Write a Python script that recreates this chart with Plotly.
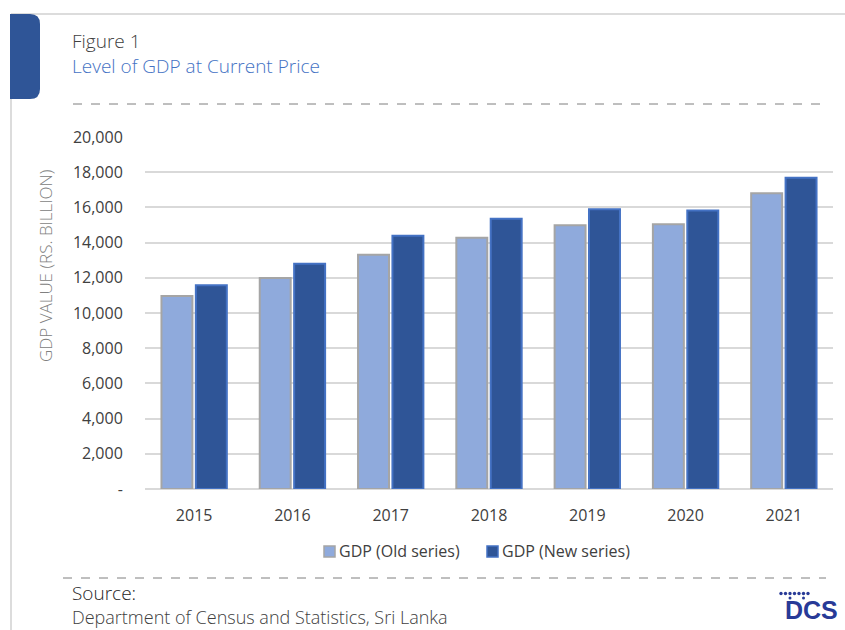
import plotly.graph_objects as go

years = ["2015", "2016", "2017", "2018", "2019", "2020", "2021"]
gdp_old = [10960, 11990, 13310, 14270, 14990, 15040, 16800]
gdp_new = [11570, 12800, 14390, 15350, 15890, 15820, 17690]
series_names = ["GDP (Old series)", "GDP (New series)"]
y_tickvals = [0, 2000, 4000, 6000, 8000, 10000, 12000, 14000, 16000, 18000, 20000]
y_ticktext = ["-", "2,000", "4,000", "6,000", "8,000", "10,000", "12,000",
              "14,000", "16,000", "18,000", "20,000"]

W, H = 845, 630
L, R, T, B = 145, 12, 137, 141
PW, PH = W - L - R, H - T - B

def px(x):
    return (x - L) / PW

def py(y):
    return (H - B - y) / PH

fills = ["#8FAADC", "#2F5597"]
edges = ["#A5A5A5", "#4472C4"]

fig = go.Figure()
fig.add_trace(go.Bar(
    x=years, y=gdp_old, name=series_names[0],
    marker=dict(color=fills[0], line=dict(color=edges[0], width=2)),
))
fig.add_trace(go.Bar(
    x=years, y=gdp_new, name=series_names[1],
    marker=dict(color=fills[1], line=dict(color=edges[1], width=2)),
))

LIGHT = "'Open Sans', sans-serif"
TICKF = "'Open Sans', sans-serif"
LOGO = "#283A97"

shapes = []
# page frame
shapes.append(dict(type="line", xref="paper", yref="paper",
                   x0=px(11), x1=px(845), y0=py(14), y1=py(14),
                   line=dict(color="#DCDCDC", width=2)))
shapes.append(dict(type="line", xref="paper", yref="paper",
                   x0=px(11), x1=px(11), y0=py(14), y1=py(630),
                   line=dict(color="#DCDCDC", width=2)))
# blue tab
x0, x1, y0, y1, r = px(10), px(40), py(14), py(99), 10
rx, ry = r / PW, r / PH
path = (f"M {x0},{y0} L {x1-rx},{y0} Q {x1},{y0} {x1},{y0-ry} "
        f"L {x1},{y1+ry} Q {x1},{y1} {x1-rx},{y1} L {x0},{y1} Z")
shapes.append(dict(type="path", xref="paper", yref="paper", path=path,
                   fillcolor="#2F5597", line=dict(width=0)))
# dashed separators
shapes.append(dict(type="line", xref="paper", yref="paper",
                   x0=px(73), x1=px(826), y0=py(104), y1=py(104),
                   line=dict(color="#7F7F7F", width=1, dash="dash")))
shapes.append(dict(type="line", xref="paper", yref="paper",
                   x0=px(63), x1=px(826), y0=py(578), y1=py(578),
                   line=dict(color="#7F7F7F", width=1, dash="dash")))
# DCS logo dots
for dx in [781, 785.5, 790, 794.5, 799, 803.5, 808]:
    shapes.append(dict(type="circle", xref="paper", yref="paper",
                       x0=px(dx - 1.7), x1=px(dx + 1.7), y0=py(595.2), y1=py(591.8),
                       fillcolor=LOGO, line=dict(width=0)))
for dx in [790, 803.5]:
    shapes.append(dict(type="circle", xref="paper", yref="paper",
                       x0=px(dx - 1.5), x1=px(dx + 1.5), y0=py(599.5), y1=py(596.5),
                       fillcolor=LOGO, line=dict(width=0)))

ann = []
# legend drawn by hand (compact, like the reference)
leg_x = [324, 487]
for i, name in enumerate(series_names):
    shapes.append(dict(type="rect", xref="paper", yref="paper",
                       x0=px(leg_x[i]), x1=px(leg_x[i] + 11),
                       y0=py(557), y1=py(546),
                       fillcolor=fills[i], line=dict(color=edges[i], width=1.5)))
    ann.append(dict(text=name, x=px(leg_x[i] + 13), y=py(551), xref="paper", yref="paper",
                    xanchor="left", yanchor="middle", showarrow=False,
                    font=dict(family=TICKF, size=16, color="#404040")))

ann.append(dict(text=("<span style='color:#404040'>Figure 1</span><br>"
                      "<span style='color:#4472C4'>Level of GDP at Current Price</span>"),
                x=px(70), y=py(54), xref="paper", yref="paper",
                xanchor="left", yanchor="middle", align="left", showarrow=False,
                font=dict(family=LIGHT, size=19, color="#404040", weight=300)))
ann.append(dict(text="GDP VALUE (RS. BILLION)", x=px(45), y=py(266),
                xref="paper", yref="paper", xanchor="center", yanchor="middle",
                textangle=-90, showarrow=False,
                font=dict(family=LIGHT, size=17, color="#808080", weight=300)))
ann.append(dict(text="Source:", x=px(70), y=py(593), xref="paper", yref="paper",
                xanchor="left", yanchor="middle", showarrow=False,
                font=dict(family=LIGHT, size=19, color="#262626", weight=300)))
ann.append(dict(text="Department of Census and Statistics, Sri Lanka", x=px(70), y=py(617),
                xref="paper", yref="paper", xanchor="left", yanchor="middle",
                showarrow=False,
                font=dict(family=LIGHT, size=18, color="#404040", weight=300)))
ann.append(dict(text="<b>DCS</b>", x=px(811), y=py(610), xref="paper", yref="paper",
                xanchor="center", yanchor="middle", showarrow=False,
                font=dict(family="'Liberation Sans', sans-serif",
                          size=25, color=LOGO)))

fig.update_layout(
    width=W, height=H,
    margin=dict(l=L, r=R, t=T, b=B, autoexpand=False),
    paper_bgcolor="white", plot_bgcolor="white",
    barmode="group", bargap=0.3, bargroupgap=0.1,
    shapes=shapes, annotations=ann,
    showlegend=False,
    xaxis=dict(showgrid=False, ticks="outside", ticklen=12, tickcolor="rgba(0,0,0,0)",
               tickfont=dict(family=TICKF, size=16, color="#404040"),
               showline=False, zeroline=False),
    yaxis=dict(range=[0, 20000], tickvals=y_tickvals, ticktext=y_ticktext,
               showgrid=True, gridcolor="#D9D9D9", gridwidth=2,
               zeroline=True, zerolinecolor="#D9D9D9", zerolinewidth=2,
               ticks="outside", ticklen=18, tickcolor="rgba(0,0,0,0)",
               tickfont=dict(family=TICKF, size=16, color="#404040"),
               showline=False),
)

fig.write_html("out.html")
